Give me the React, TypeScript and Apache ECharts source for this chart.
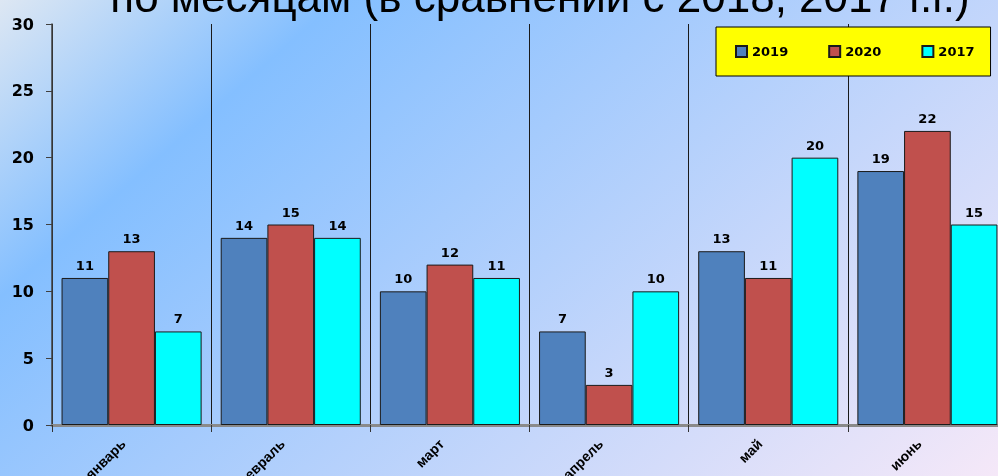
import React, { useEffect, useRef } from "react";
import * as echarts from "echarts";

const categories = ["январь", "февраль", "март", "апрель", "май", "июнь"];
const seriesNames = ["2019", "2020", "2017"];
const values2019 = [11, 14, 10, 7, 13, 19];
const values2020 = [13, 15, 12, 3, 11, 22];
const values2017 = [7, 14, 11, 10, 20, 15];
const seriesColors = ["#4f81bd", "#c0504d", "#00ffff"];
const titleText = "по месяцам (в сравнении с 2018, 2017 г.г.)";

export default function App() {
  const ref = useRef<HTMLDivElement>(null);
  useEffect(() => {
    if (!ref.current) return;
    const chart = echarts.init(ref.current, undefined, { renderer: "svg" });
    const data = [values2019, values2020, values2017];
    const labelFont = '"DejaVu Sans", sans-serif';
    chart.setOption({
      animation: false,
      graphic: {
        elements: [
          {
            type: "rect",
            z: -100,
            silent: true,
            shape: { x: 0, y: 0, width: 998, height: 476 },
            style: {
              fill: {
                type: "linear",
                x: 0,
                y: 0,
                x2: 670,
                y2: 763,
                global: true,
                colorStops: [
                  { offset: 0, color: "#dde7f3" },
                  { offset: 0.22, color: "#84bfff" },
                  { offset: 1, color: "#f5e8f8" },
                ],
              },
            },
          },
          {
            type: "text",
            x: 540,
            y: -4,
            silent: true,
            style: {
              text: titleText,
              font: '44px "Liberation Sans", Arial, sans-serif',
              fill: "#000",
              textAlign: "center",
              textVerticalAlign: "middle",
            },
          },
        ],
      },
      legend: {
        data: seriesNames,
        left: 716,
        top: 27,
        orient: "horizontal",
        padding: [18, 16, 18, 19],
        itemGap: 40,
        itemWidth: 11,
        itemHeight: 11,
        icon: "rect",
        backgroundColor: "#ffff00",
        borderColor: "#000",
        borderWidth: 1,
        selectedMode: false,
        textStyle: {
          fontFamily: labelFont,
          fontWeight: "bold",
          fontSize: 13,
          color: "#000",
        },
      },
      grid: {
        left: 52,
        top: 24,
        width: 955,
        bottom: 51,
        containLabel: false,
        outerBoundsMode: "none",
      },
      xAxis: {
        type: "category",
        data: categories,
        boundaryGap: true,
        axisLine: { show: true, lineStyle: { color: "#8a8a8a", width: 3 } },
        axisTick: { show: true, length: 7, lineStyle: { color: "#333", width: 1 } },
        splitLine: { show: true, lineStyle: { color: "#1a1a1a", width: 1 } },
        axisLabel: {
          interval: 0,
          rotate: 45,
          margin: 8,
          padding: [0, 12, 0, 0],
          color: "#000",
          fontFamily: '"Liberation Sans", Arial, sans-serif',
          fontWeight: "bold",
          fontSize: 14,
        },
      },
      yAxis: {
        type: "value",
        min: 0,
        max: 30,
        interval: 5,
        axisLine: { show: true, lineStyle: { color: "#404040", width: 1.5 } },
        axisTick: { show: true, length: 6, lineStyle: { color: "#404040" } },
        splitLine: { show: false },
        axisLabel: {
          margin: 18,
          color: "#000",
          fontFamily: labelFont,
          fontWeight: "bold",
          fontSize: 16,
        },
      },
      series: seriesNames.map((name, i) => ({
        name,
        type: "bar",
        data: data[i],
        barGap: "0%",
        barCategoryGap: "12%",
        itemStyle: { color: seriesColors[i], borderColor: "#1a1a1a", borderWidth: 1 },
        label: {
          show: true,
          position: "top",
          distance: 6,
          color: "#000",
          fontFamily: labelFont,
          fontWeight: "bold",
          fontSize: 13,
        },
      })),
    });
    return () => chart.dispose();
  }, []);
  return (
    <div
      ref={ref}
      style={{ position: "fixed", left: 0, top: 0, width: 998, height: 476 }}
    />
  );
}
